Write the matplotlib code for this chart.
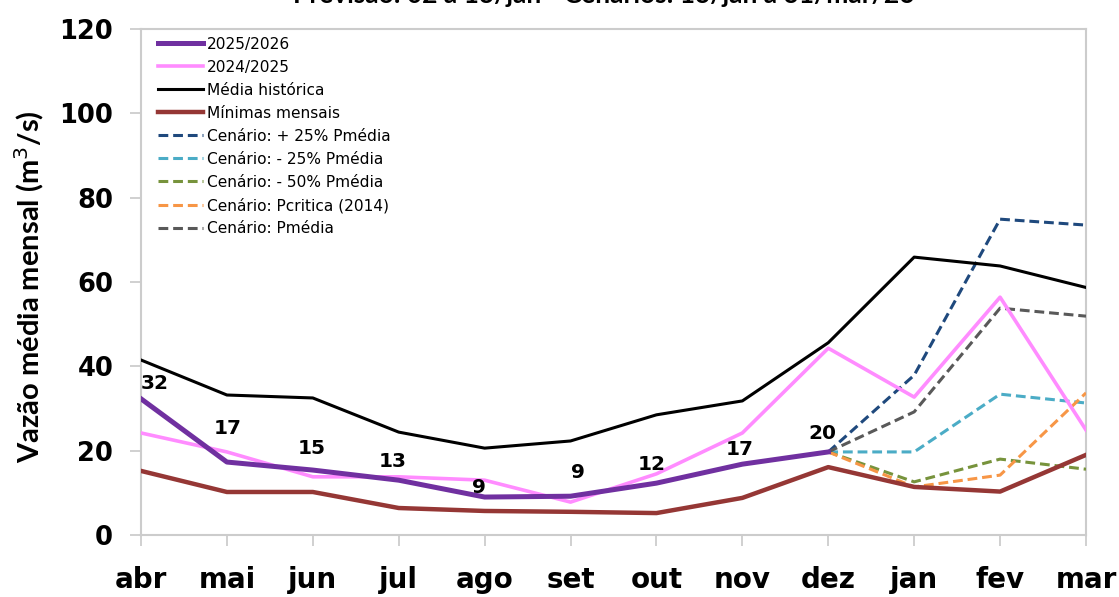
import matplotlib
matplotlib.use("Agg")
import matplotlib.pyplot as plt

plt.rcParams['font.family'] = ['DejaVu Sans']

months = ["abr", "mai", "jun", "jul", "ago", "set", "out", "nov", "dez", "jan", "fev", "mar"]

serie_2025_2026 = [32.3, 17.3, 15.4, 13.0, 9.0, 9.2, 12.3, 16.8, 19.7]
labels_2025_2026 = ["32", "17", "15", "13", "9", "9", "12", "17", "20"]
serie_2024_2025 = [24.2, 19.7, 13.8, 13.8, 13.0, 7.8, 14.5, 24.2, 44.3, 32.7, 56.4, 24.9]
media_historica = [41.5, 33.2, 32.5, 24.4, 20.6, 22.3, 28.5, 31.8, 45.6, 65.9, 63.8, 58.7]
minimas_mensais = [15.2, 10.2, 10.2, 6.4, 5.7, 5.5, 5.2, 8.8, 16.1, 11.4, 10.3, 19.0]

# Scenarios: dez, jan, fev, mar
cen_mais25 = [19.7, 37.9, 74.9, 73.5]
cen_menos25 = [19.7, 19.7, 33.4, 31.3]
cen_menos50 = [19.7, 12.6, 18.0, 15.6]
cen_pcritica = [19.7, 11.4, 14.2, 33.7]
cen_pmedia = [19.7, 29.2, 53.8, 51.9]

title = "Previsão: 02 a 13/jan - Cenários: 13/jan a 31/mar/26"
ylabel = "Vazão média mensal (m$^3$/s)"

fig = plt.figure(figsize=(11.19, 5.97), dpi=100)
ax = fig.add_axes([141/1119, 62/597, (1086-141)/1119, (535-29)/597])

x_all = list(range(len(months)))
x_obs = x_all[:len(serie_2025_2026)]
x_cen = x_all[8:]

ax.plot(x_obs, serie_2025_2026, color="#7030A0", lw=3.6, label="2025/2026", zorder=6)
ax.plot(x_all, serie_2024_2025, color="#FF8CFF", lw=2.6, label="2024/2025", zorder=5)
ax.plot(x_all, media_historica, color="black", lw=2.2, label="Média histórica", zorder=4)
ax.plot(x_all, minimas_mensais, color="#953735", lw=3.2, label="Mínimas mensais", zorder=4)

dash = (3.2, 1.6)
ax.plot(x_cen, cen_mais25, color="#1F497D", lw=2.2, dashes=dash, label="Cenário: + 25% Pmédia", zorder=3)
ax.plot(x_cen, cen_menos25, color="#4BACC6", lw=2.2, dashes=dash, label="Cenário: - 25% Pmédia", zorder=3)
ax.plot(x_cen, cen_menos50, color="#77933C", lw=2.2, dashes=dash, label="Cenário: - 50% Pmédia", zorder=3)
ax.plot(x_cen, cen_pcritica, color="#F79646", lw=2.2, dashes=dash, label="Cenário: Pcritica (2014)", zorder=3)
ax.plot(x_cen, cen_pmedia, color="#595959", lw=2.2, dashes=dash, label="Cenário: Pmédia", zorder=3)

label_offsets = [(14, 15), (1, 34), (-1, 22), (-6, 19), (-6, 10), (7, 24), (-5, 19), (-3, 15), (-6, 18)]
for xi, yi, txt, off in zip(x_obs, serie_2025_2026, labels_2025_2026, label_offsets):
    ax.annotate(txt, (xi, yi), xytext=off, textcoords="offset pixels",
                ha="center", va="center", fontsize=14.5, fontweight="bold", zorder=10)

ax.set_xlim(0, len(months) - 1)
ax.set_ylim(0, 120)
ax.set_yticks(range(0, 121, 20))
ax.set_xticks(x_all)
ax.set_xticklabels(months)
ax.tick_params(axis='both', colors="#C8C8C8", labelcolor="black", width=1.2, length=8)
ax.tick_params(axis='y', labelsize=18.5, pad=12)
ax.tick_params(axis='x', labelsize=20, pad=14)
for lab in ax.get_xticklabels() + ax.get_yticklabels():
    lab.set_fontweight("bold")
for sp in ax.spines.values():
    sp.set_color("#CCCCCC")
    sp.set_linewidth(1.5)

ax.set_ylabel(ylabel, fontsize=21, fontweight="bold", family=["Lato", "DejaVu Sans"])
ax.yaxis.set_label_coords(-0.1, 0.49)

leg = ax.legend(loc="upper left", bbox_to_anchor=(0.018, 0.985), fontsize=11.1, frameon=True,
                handlelength=2.9, handletextpad=0.3, labelspacing=0.52, borderpad=0.0,
                borderaxespad=0.0, fancybox=False)
leg.get_frame().set_linewidth(0)
leg.get_frame().set_facecolor("white")
leg.get_frame().set_alpha(1)

fig.text(0.54, 1 - 3/597, title, ha="center", va="baseline", fontsize=19, fontweight="bold",
         family=["Lato", "DejaVu Sans"])

fig.savefig("out.png", dpi=100)
